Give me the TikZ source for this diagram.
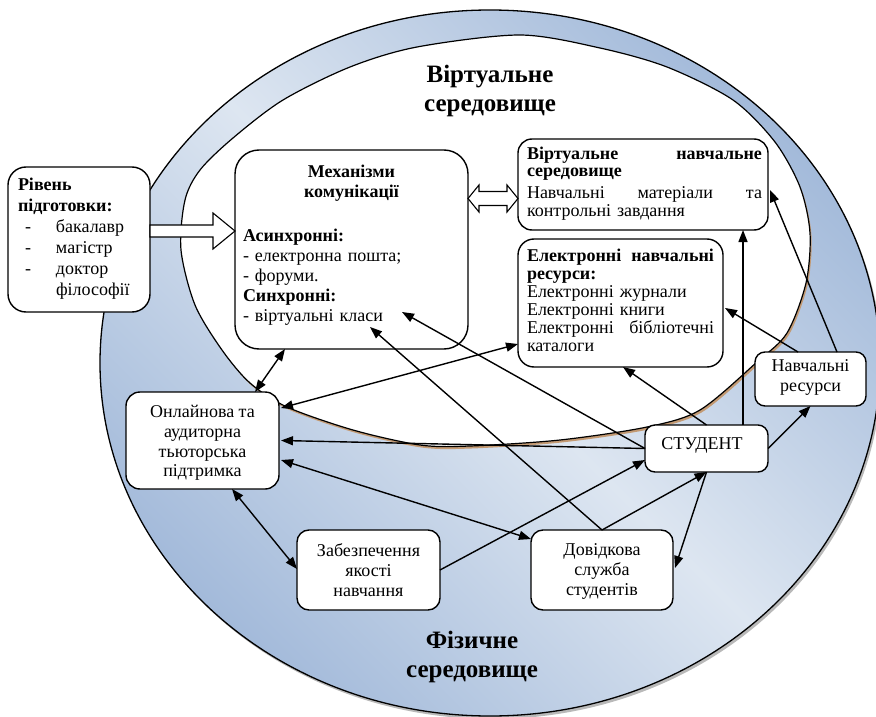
\documentclass[tikz,border=0pt]{standalone}
\usepackage{fontspec}
\setmainfont{Liberation Serif}
\usetikzlibrary{arrows.meta,calc}
\definecolor{dkblue}{HTML}{A3BADA}
\definecolor{ltblue}{HTML}{DDE6F1}
\definecolor{shbrown}{HTML}{C39A73}
\begin{document}
\begin{tikzpicture}[x=1pt,y=-1pt,
  box/.style={draw,line width=1.4pt,fill=white,rounded corners=13pt,inner sep=0pt,outer sep=0pt},
  body/.style={font=\fontsize{18}{19.7}\selectfont,inner sep=0pt,outer sep=0pt},
  con/.style={line width=1.4pt,-{Triangle[length=12pt,width=9pt]}},
  bicon/.style={line width=1.4pt,{Triangle[length=12pt,width=9pt]}-{Triangle[length=12pt,width=9pt]}},
  hollow/.style={draw,line width=1.1pt,fill=white,line join=miter},
  title/.style={font=\fontsize{25}{29}\selectfont\bfseries,align=center,inner sep=0pt}
]
\useasboundingbox (0,0) rectangle (876,717);
\begin{scope}
\clip (0,0) rectangle (876,717);
\fill[gray!55] (492,366) ellipse [x radius=390,y radius=353];
\shade[top color=dkblue,bottom color=dkblue,middle color=ltblue,shading angle=-45] (490,363) ellipse [x radius=390,y radius=353];
\draw[line width=1.3pt] (490,363) ellipse [x radius=390,y radius=353];
\end{scope}
% inner (virtual) environment
\begin{scope}[shift={(1.5,2.5)}]
\fill[shbrown] plot[smooth cycle] coordinates {(520,35) (600,48) (667,67) (733,100) (775,142) (800,187) (810,233) (806,283) (787,333) (757,362) (700,410) (647,427) (560,440) (470,446) (420,445) (353,430) (287,407) (250,383) (222,350) (195,305) (181,250) (185,200) (200,170) (233,138) (283,100) (350,67) (417,47)};
\end{scope}
\draw[line width=1.2pt,fill=white] plot[smooth cycle] coordinates {(520,35) (600,48) (667,67) (733,100) (775,142) (800,187) (810,233) (806,283) (787,333) (757,362) (700,410) (647,427) (560,440) (470,446) (420,445) (353,430) (287,407) (250,383) (222,350) (195,305) (181,250) (185,200) (200,170) (233,138) (283,100) (350,67) (417,47)};

\node[title] (vtitle) at (490,91) {Віртуальне\\середовище};
\node[title] (ptitle) at (472,657) {Фізичне\\середовище};

% boxes
\node[box,rounded corners=18pt,minimum width=142pt,minimum height=145pt] (riven) at (79,239.5) {};
\node[box,rounded corners=24pt,minimum width=233pt,minimum height=199pt] (mech) at (351.5,249.5) {};
\node[box,rounded corners=14pt,minimum width=250pt,minimum height=91pt] (virt) at (643,184.5) {};
\node[box,rounded corners=16pt,minimum width=205pt,minimum height=128pt] (eres) at (620.5,303) {};
\node[box,rounded corners=14pt,minimum width=153pt,minimum height=97pt] (tutor) at (202.5,440.5) {};
\node[box,rounded corners=10pt,minimum width=123pt,minimum height=47pt] (stud) at (706.5,448.5) {};
\node[box,rounded corners=10pt,minimum width=111pt,minimum height=54pt] (navres) at (810.5,379) {};
\node[box,rounded corners=12pt,minimum width=143pt,minimum height=80pt] (zab) at (368.5,570) {};
\node[box,rounded corners=12pt,minimum width=142pt,minimum height=80pt] (dov) at (602,570) {};

% texts
\node[body,anchor=north west,text width=125pt,align=left,font=\fontsize{18}{21}\selectfont] (riventxt) at (18,178)
 {\textbf{Рівень}\\
  \textbf{підготовки:}\\
  \makebox[38pt][l]{\hspace*{7pt}-}бакалавр\\
  \makebox[38pt][l]{\hspace*{7pt}-}магістр\\
  \makebox[38pt][l]{\hspace*{7pt}-}доктор\\
  \hspace*{38pt}філософії};
\node[body,anchor=north,text width=217pt,align=left,font=\fontsize{18}{20}\selectfont] (mechtxt) at (351.5,164.7)
 {{\centering\bfseries Механізми\\ комунікації\par}\vspace{24pt}\textbf{Асинхронні:}\\- електронна пошта;\\- форуми.\\\textbf{Синхронні:}\\- віртуальні класи};
\node[body,anchor=north west,text width=235pt,align=left,font=\fontsize{18}{18.5}\selectfont] (virttxt) at (527,147.5)
 {\textbf{Віртуальне\hfill навчальне}\\[-1.5pt]\textbf{середовище}\\[3pt]Навчальні\hfill матеріали\hfill та\\контрольні завдання};
\node[body,anchor=north west,text width=187pt,align=left,font=\fontsize{18}{18}\selectfont] (erestxt) at (527,249.5)
 {\textbf{Електронні\hfill навчальні}\\\textbf{ресурси:}\\Електронні журнали\\Електронні книги\\Електронні\hfill бібліотечні\\каталоги};
\node[body,anchor=north,align=center] (tutortxt) at (202.5,405.5) {Онлайнова та\\аудиторна\\тьюторська\\підтримка};
\node[body,anchor=north] (studtxt) at (702,438) {СТУДЕНТ};
\node[body,anchor=north,align=center] (navrestxt) at (810.5,359.7) {Навчальні\\ресурси};
\node[body,anchor=north,align=center] (zabtxt) at (368.5,544) {Забезпечення\\якості\\навчання};
\node[body,anchor=north,align=center] (dovtxt) at (602,544) {Довідкова\\служба\\студентів};

% hollow block arrows
\draw[hollow] ($(riven.east)+(0,-14.5)$) -- ++(63,0) -- ++(0,-12) -- ($(mech.west)+(0,-18.5)$) -- ++(-22,18) -- ++(0,-12) -- ($(riven.east)+(0,-2.5)$) -- cycle;
\draw[hollow] ($(mech.east)+(0,-51)$) -- ++(11,-13.5) -- ++(0,6.5) -- ++(28,0) -- ++(0,-6.5) -- ($(virt.west)+(0,14)$) -- ++(-11,13.5) -- ++(0,-6.5) -- ++(-28,0) -- ++(0,6.5) -- cycle;

% connectors
\draw[bicon] ($(tutor.north)+(52.5,0)$) -- ($(mech.south)+(-66.5,0)$);
\draw[bicon] ($(tutor.north east)+(2,16)$) -- ($(eres.south west)+(0,-23)$);
\draw[con] (stud.west) -- ($(tutor.east)+(2,0)$);
\draw[bicon] ($(tutor.east)+(2,19.5)$) -- ($(dov.north west)+(0,9)$);
\draw[bicon] ($(tutor.south)+(29.5,0)$) -- ($(zab.west)+(0,-1)$);
\draw[con] (zab.east) -- ($(stud.west)+(0,11.5)$);
\draw[con] (dov.north) -- (stud.south);
\draw[con] (stud.south) -- ($(dov.east)+(2,-2)$);
\draw[con] (dov.north) -- ($(mech.south)+(18.5,-22)$);
\draw[con] (stud.west) -- ($(mech.south)+(50.5,-37)$);
\draw[con] (stud.north) -- ($(eres.south)+(2.5,0)$);
\draw[con] ($(stud.north)+(36.5,0)$) -- ($(virt.south)+(100,0)$);
\draw[con] (stud.east) -- (navres.south);
\draw[con] ($(navres.north west)+(43,0)$) -- ($(eres.east)+(2,5)$);
\draw[con] ($(navres.north)+(26.5,0)$) -- ($(virt.east)+(2,5.5)$);
\end{tikzpicture}
\end{document}
